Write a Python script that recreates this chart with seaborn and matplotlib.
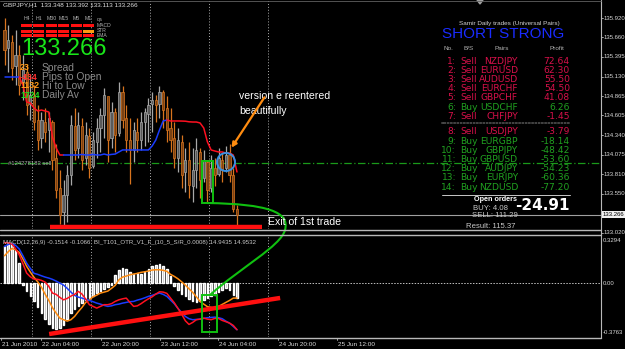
import matplotlib
matplotlib.use("Agg")
import matplotlib.pyplot as plt
import matplotlib.patches as mpatches
from matplotlib.path import Path
import numpy as np
import pandas as pd
import seaborn as sns

sns.set_style("dark")
plt.rcParams['font.family'] = ['Liberation Sans', 'DejaVu Sans']

# ---------------- data ----------------
bar_idx = list(range(64))
c_open = [135.758, 135.515, 135.596, 135.273, 135.421, 135.057, 135.192, 134.760, 134.868, 134.544,
          134.301, 134.517, 134.409, 134.517, 134.032, 133.627, 133.303, 133.532, 133.802, 134.463,
          134.167, 134.463, 134.032, 134.328, 133.924, 134.247, 134.436, 134.612, 134.868, 134.301,
          134.652, 134.369, 134.922, 134.571, 134.274, 134.140, 134.382, 134.274, 134.517, 134.625,
          134.760, 134.814, 134.760, 134.922, 134.706, 134.436, 134.301, 134.032, 134.247, 133.843,
          134.005, 133.654, 133.870, 134.113, 133.762, 133.978, 133.627, 133.897, 133.816, 134.005,
          133.897, 134.072, 133.802, 133.348]
c_high = [135.920, 135.826, 135.691, 135.758, 135.556, 135.421, 135.286, 135.151, 135.016, 134.747,
          134.652, 134.706, 134.652, 134.544, 134.220, 133.870, 133.735, 133.937, 134.612, 134.706,
          134.652, 134.571, 134.517, 134.436, 134.382, 134.571, 134.706, 134.976, 134.841, 134.787,
          134.706, 135.057, 135.003, 134.747, 134.571, 134.517, 134.571, 134.652, 134.706, 134.841,
          134.922, 134.881, 135.003, 134.949, 134.868, 134.706, 134.517, 134.436, 134.342, 134.167,
          134.247, 134.167, 134.301, 134.167, 134.140, 134.005, 134.072, 134.032, 134.167, 134.113,
          134.193, 134.220, 133.897, 133.392]
c_low = [135.286, 135.192, 135.084, 135.016, 134.881, 134.814, 134.612, 134.544, 134.409, 134.140,
         134.167, 134.247, 134.113, 133.870, 133.492, 133.141, 133.128, 133.168, 133.667, 134.005,
         134.032, 133.870, 133.937, 133.762, 133.897, 134.032, 134.113, 134.301, 133.978, 134.167,
         134.113, 134.328, 134.436, 134.113, 133.681, 133.978, 134.113, 134.140, 134.193, 134.247,
         134.382, 134.517, 134.571, 134.436, 134.247, 134.113, 133.897, 133.843, 133.627, 133.573,
         133.492, 133.438, 133.627, 133.492, 133.708, 133.438, 133.573, 133.654, 133.789, 133.708,
         133.843, 133.708, 133.303, 133.113]
c_close = [135.489, 135.623, 135.246, 135.421, 135.016, 135.219, 134.747, 134.881, 134.517, 134.274,
           134.544, 134.382, 134.571, 134.005, 133.600, 133.263, 133.532, 133.802, 134.477, 134.140,
           134.477, 134.005, 134.342, 133.897, 134.274, 134.436, 134.612, 134.881, 134.274, 134.652,
           134.342, 134.922, 134.544, 134.274, 134.140, 134.409, 134.274, 134.517, 134.652, 134.747,
           134.814, 134.747, 134.922, 134.679, 134.409, 134.274, 134.032, 134.274, 133.802, 134.005,
           133.667, 133.870, 134.140, 133.735, 134.005, 133.600, 133.897, 133.802, 134.032, 133.870,
           134.072, 133.802, 133.344, 133.266]

band_level = [135.124, 135.124, 135.124, 135.124, 135.124, 135.016, 134.787, 134.774, 134.706, 134.666,
              134.679, 134.666, 134.652, 134.315, 134.166, 134.072, 134.072, 134.072, 134.072, 134.072,
              134.072, 134.080, 134.072, 134.072, 134.080, 134.072, 134.072, 134.085, 134.072, 134.080,
              134.085, 134.113, 134.140, 134.140, 134.140, 134.140, 134.140, 134.140, 134.140, 134.140,
              134.193, 134.274, 134.409, 134.531, 134.544, 134.531, 134.531, 134.531, 134.530, 134.528,
              134.520, 134.517, 134.517, 134.504, 134.436, 134.247, 134.140, 134.126, 134.113, 134.113,
              134.099, 134.099, 134.072, 133.843]
band_trend = ['up'] * 4 + ['dn'] * 12 + ['up'] * 28 + ['dn'] * 20

macd_hist = [0.256, 0.275, 0.275, 0.233, 0.140, -0.012, -0.058, -0.093, -0.128, -0.168,
             -0.210, -0.252, -0.284, -0.315, -0.322, -0.315, -0.291, -0.252, -0.210, -0.182,
             -0.158, -0.140, -0.121, -0.105, -0.089, -0.070, -0.054, -0.042, -0.028, -0.012,
             0.058, 0.089, 0.105, 0.098, 0.075, 0.065, 0.070, 0.065, 0.075, 0.098,
             0.117, 0.128, 0.130, 0.121, 0.098, 0.047, -0.019, -0.051, -0.075, -0.093,
             -0.112, -0.126, -0.130, -0.128, -0.121, -0.105, -0.093, -0.084, -0.065, -0.047,
             -0.037, -0.051, -0.082, -0.105]
line_blue = [0.256, 0.270, 0.277, 0.263, 0.238, 0.191, 0.140, 0.103, 0.068, 0.061,
             0.051, 0.042, 0.035, 0.026, 0.014, 0.000, -0.014, -0.037, -0.063, -0.086,
             -0.098, -0.105, -0.114, -0.121, -0.130, -0.140, -0.147, -0.156, -0.163, -0.159,
             -0.151, -0.147, -0.140, -0.135, -0.130, -0.128, -0.119, -0.112, -0.103, -0.093,
             -0.086, -0.077, -0.070, -0.079, -0.093, -0.119, -0.144, -0.177, -0.205, -0.233,
             -0.249, -0.256, -0.254, -0.252, -0.247, -0.242, -0.240, -0.238, -0.242, -0.249,
             -0.266, -0.280, -0.303, -0.326]
line_red = [0.282, 0.282, 0.273, 0.240, 0.196, 0.135, 0.070, 0.044, 0.028, 0.026,
            0.019, 0.007, -0.023, -0.070, -0.079, -0.100, -0.117, -0.107, -0.091, -0.079,
            -0.058, -0.077, -0.112, -0.151, -0.163, -0.175, -0.163, -0.151, -0.151, -0.144,
            -0.128, -0.117, -0.110, -0.105, -0.135, -0.163, -0.159, -0.144, -0.126, -0.110,
            -0.096, -0.077, -0.061, -0.063, -0.072, -0.105, -0.137, -0.177, -0.217, -0.263,
            -0.289, -0.275, -0.256, -0.252, -0.245, -0.252, -0.256, -0.247, -0.247, -0.261,
            -0.270, -0.280, -0.296, -0.326]
line_orange = [0.191, 0.219, 0.242, 0.233, 0.214, 0.168, 0.117, 0.077, 0.040, 0.009,
               -0.028, -0.077, -0.121, -0.172, -0.210, -0.245, -0.256, -0.266, -0.256, -0.233,
               -0.200, -0.170, -0.135, -0.117, -0.096, -0.084, -0.070, -0.063, -0.056, -0.037,
               -0.016, 0.023, 0.042, 0.049, 0.058, 0.063, 0.068, 0.075, 0.079, 0.084,
               0.091, 0.093, 0.093, 0.089, 0.082, 0.061, 0.047, 0.030, 0.009, -0.014,
               -0.040, -0.065, -0.096, -0.128, -0.147, -0.165, -0.170, -0.175, -0.163, -0.149,
               -0.135, -0.121, -0.105, -0.105]

price_ticks = [135.920, 135.660, 135.395, 135.130, 134.865, 134.605, 134.340, 134.075, 133.810, 133.550]
price_bottom_label = 133.020
current_price = 133.266
order_price = 133.963
order_label = "#124278183 sell"
ind_ticks = [0.3294, 0.0, -0.3763]
ind_tick_labels = ["0.3294", "0.00", "-0.3763"]

grid_bars = [7.5, 23.5, 39.5, 55.5, 71.5]
date_pos = [-0.9, 10, 26.2, 42.1, 57.9, 74.1, 90.1]
date_labels = ["21 Jun 2010", "22 Jun 04:00", "22 Jun 20:00", "23 Jun 12:00",
               "24 Jun 04:00", "24 Jun 20:00", "25 Jun 12:00"]

# drawn annotations (in chart units)
support_price = 133.101
support_span = [12.2, 69.8]
trend_bars = [12.1, 74.7]
trend_vals = [-0.356, -0.104]
box_top_bars = [53.5, 56.5]
box_top_prices = [133.425, 133.991]
box_low_bars = [53.5, 57.6]
box_low_vals = [-0.342, -0.083]

# trade panel
header_title = "Samir Daily trades (Universal Pairs)"
signal = "SHORT STRONG"
trade_no = ["1:", "2:", "3:", "4:", "5:", "6:", "7:", "8:", "9:", "10:", "11:", "12:", "13:", "14:"]
trade_side = ["Sell", "Sell", "Sell", "Sell", "Sell", "Buy", "Sell", "Sell", "Buy", "Buy", "Buy", "Buy", "Buy", "Buy"]
trade_pair = ["NZDJPY", "EURUSD", "AUDUSD", "EURCHF", "GBPCHF", "USDCHF", "CHFJPY",
              "USDJPY", "EURGBP", "GBPJPY", "GBPUSD", "AUDJPY", "EURJPY", "NZDUSD"]
trade_profit = [72.64, 62.30, 55.50, 54.50, 41.08, 6.26, -1.45,
                -3.79, -18.14, -48.42, -53.60, -54.23, -60.36, -77.20]
buy_total, sell_total, result_total, open_total = 4.08, 111.29, 115.37, -24.91

info_values = ["23", "-434", "1132", "1724"]
info_labels = ["Spread", "Pips to Open", "Hi to Low", "Daily Av"]
info_colors = ["#ff9a1a", "#ff3030", "#ff9a1a", "#22dd22"]
tf_labels = ["H4", "H1", "M30", "M15", "M5", "M1"]
row_labels = ["qa", "MACD", "STR", "EMA"]

# ---------------- layout ----------------
W, H = 625, 349
BX0, BDX = 4.5, 3.69        # pixel of bar 0, pixel per bar
P0, PPX = 136.163, 0.01349  # price at top, price per pixel
fig = plt.figure(figsize=(W / 100, H / 100), dpi=100, facecolor='black')


def fpos(x0, y0, x1, y1):
    return [x0 / W, 1 - y1 / H, (x1 - x0) / W, (y1 - y0) / H]


ax = fig.add_axes(fpos(0, 0, 601, 229))
axi = fig.add_axes(fpos(0, 235, 601, 337))
for a in (ax, axi):
    a.set_facecolor('black')
    a.set_xlim((0 - BX0) / BDX, (601 - BX0) / BDX)
    a.set_xticks([]); a.set_yticks([])
    for s in a.spines.values():
        s.set_visible(False)
    a.grid(False)
ax.set_ylim(P0 - 229 * PPX, P0)
axi.set_ylim(-0.3768, 0.336)

# grid lines
for g in grid_bars:
    for a in (ax, axi):
        a.axvline(g, color='#b0b0b0', lw=0.7, ls=(0, (1, 2)), zorder=0)

# candles
df = pd.DataFrame({'i': bar_idx, 'o': c_open, 'h': c_high, 'l': c_low, 'c': c_close})
up = df['c'] >= df['o']
for msk, body, edge in ((up, '#5a5a5a', '#a8a8a8'), (~up, '#7a4214', '#d8741e')):
    d = df[msk]
    ax.vlines(d['i'], d['l'], d['h'], color=edge, lw=0.9, zorder=2)
    ax.bar(d['i'], (d['c'] - d['o']).abs(), bottom=np.minimum(d['o'], d['c']), width=0.6,
           color=body, edgecolor=edge, lw=0.5, zorder=3)

# trailing band
bdf = pd.DataFrame({'i': bar_idx, 'v': band_level, 't': band_trend})
seg_start = 0
for k in range(1, len(bdf) + 1):
    if k == len(bdf) or bdf['t'][k] != bdf['t'][seg_start]:
        seg = bdf.iloc[seg_start:min(k + 1, len(bdf))]
        col = '#1a3cff' if bdf['t'][seg_start] == 'up' else '#ff1020'
        sns.lineplot(data=seg, x='i', y='v', ax=ax, color=col, lw=1.1, zorder=4, legend=False)
        seg_start = k

# horizontal lines
ax.axhline(current_price, color='#a0a0a0', lw=0.8, zorder=1)
ax.axhline(order_price, color='#1a9a1a', lw=0.9, ls=(0, (6, 2, 1, 2)), zorder=1)
ax.text(1, order_price, order_label, color='#b0b0b0', fontsize=4.2, va='center', ha='left', zorder=5)
ax.plot(support_span, [support_price] * 2, color='#ff1010', lw=3.2, zorder=6, solid_capstyle='butt')
ax.add_patch(mpatches.Rectangle((box_top_bars[0], box_top_prices[0]), box_top_bars[1] - box_top_bars[0],
                                box_top_prices[1] - box_top_prices[0], fill=False, ec='#10c010', lw=1.4, zorder=6))

# indicator
axi.axhline(0, color='#c0c0c0', lw=0.7, ls=(0, (1.5, 1.5)), zorder=0)
axi.bar(bar_idx, macd_hist, width=0.42, color='#b4b4b4', zorder=2)
idf = pd.DataFrame({'i': bar_idx, 'b': line_blue, 'r': line_red, 'o': line_orange})
sns.lineplot(data=idf, x='i', y='o', ax=axi, color='#ff8c10', lw=1.1, zorder=3)
sns.lineplot(data=idf, x='i', y='b', ax=axi, color='#1a3cff', lw=1.1, zorder=4)
sns.lineplot(data=idf, x='i', y='r', ax=axi, color='#ff1020', lw=1.1, zorder=5)
axi.plot(trend_bars, trend_vals, color='#ff1010', lw=3.2, zorder=6, solid_capstyle='butt')
axi.add_patch(mpatches.Rectangle((box_low_bars[0], box_low_vals[0]), box_low_bars[1] - box_low_bars[0],
                                 box_low_vals[1] - box_low_vals[0], fill=False, ec='#10c010', lw=1.4, zorder=7))
for a in (ax, axi):
    a.set_xlabel(''); a.set_ylabel('')
    a.set_xlim((0 - BX0) / BDX, (601 - BX0) / BDX)

axi.text(0.005, 0.95, "MACD(12,26,9) -0.1514 -0.1066  BI_T101_OTR_V1_F_(10_5_S/R_0.0008) 14.9435 14.9532",
         transform=axi.transAxes, color='#c8c8c8', fontsize=4.4, va='top', ha='left', zorder=8)

# ---------------- overlay (frame, labels, annotations) ----------------
ov = fig.add_axes([0, 0, 1, 1], zorder=10)
ov.set_xlim(0, W); ov.set_ylim(H, 0); ov.axis('off'); ov.patch.set_alpha(0)

frame_col = '#b8b8b8'
ov.plot([601, 601], [0, 338], color=frame_col, lw=0.8)
ov.plot([0, 601], [229.5, 229.5], color=frame_col, lw=1.0)
ov.plot([0, 601], [234.5, 234.5], color=frame_col, lw=1.0)
ov.plot([0, 601], [337.5, 337.5], color=frame_col, lw=1.0)
ov.plot([0, 601], [0.5, 0.5], color='#606060', lw=0.6)
ov.add_patch(mpatches.Polygon([[477, 0], [483, 0], [480, 4]], color='#a0a0a0'))

# price scale
for p in price_ticks + [price_bottom_label]:
    yy = (P0 - p) / PPX
    ov.plot([601, 603], [yy, yy], color=frame_col, lw=0.6)
    ov.text(604, yy, f"{p:.3f}", color='#d8d8d8', fontsize=4.3, va='center', ha='left')
ycur = (P0 - current_price) / PPX
ov.text(603, ycur, f"{current_price:.3f}", color='black', fontsize=4.3, va='center', ha='left',
        bbox=dict(boxstyle='square,pad=0.15', fc='#f0f0f0', ec='none'))
for v, lab in zip(ind_ticks, ind_tick_labels):
    yy = 235 + (0.336 - v) / (0.336 + 0.3768) * 102
    yy = min(max(yy, 240), 333)
    ov.text(603, yy, lab, color='#d8d8d8', fontsize=4.3, va='center', ha='left')

# date axis
for pos, lab in zip(date_pos, date_labels):
    xx = BX0 + pos * BDX
    ov.plot([xx, xx], [338, 340], color=frame_col, lw=0.6)
    ov.text(xx + 1, 344, lab, color='#d8d8d8', fontsize=4.6, va='center', ha='left')

# top-left info
ov.text(3, 5, "GBPJPY,H1  133.348 133.392 133.113 133.266", color='#e0e0e0', fontsize=4.6, va='center', ha='left')
cell_x = [21, 33, 46, 58, 71, 83]
for k, (cx, tl) in enumerate(zip(cell_x, tf_labels)):
    ov.text(cx + 5.5, 19, tl, color='#b0b0b0', fontsize=3.8, va='center', ha='center')
    for r, ry in enumerate([24, 29.5, 34]):
        col = '#ff9a10' if (r == 1 and k == 5) else '#ff1010'
        ov.add_patch(mpatches.Rectangle((cx, ry), 11, 3.3, color=col, lw=0))
for r, (lab, ry) in enumerate(zip(row_labels, [19, 25.5, 31, 35.5])):
    ov.text(97, ry, lab, color='#b0b0b0', fontsize=3.6, va='center', ha='left')
ov.text(21, 49, f"{current_price:.3f}", color='#19e619', fontsize=17, va='center', ha='left')
for k, (v, lab, col) in enumerate(zip(info_values, info_labels, info_colors)):
    yy = 68 + 9 * k
    ov.text(20, yy, v, color=col, fontsize=6.4, va='center', ha='left', fontweight='bold')
    ov.text(42, yy, lab, color='#8a8a8a', fontsize=7.4, va='center', ha='left')

# trade panel
ov.text(509, 23, header_title, color='#d0d0d0', fontsize=4.6, va='center', ha='center')
ov.text(503, 34, signal, color='#1a2cff', fontsize=11, va='center', ha='center')
ov.text(443, 49, "No.", color='#b0b0b0', fontsize=4.6, va='center', ha='left')
ov.text(463, 49, "B/S", color='#b0b0b0', fontsize=4.6, va='center', ha='left')
ov.text(502, 49, "Pairs", color='#b0b0b0', fontsize=4.6, va='center', ha='center')
ov.text(557, 49, "Profit", color='#b0b0b0', fontsize=4.6, va='center', ha='center')
row_y = [61, 70.3, 79.5, 88.8, 98, 107.2, 116.4, 132, 141.2, 150.4, 159.6, 168.8, 178, 187.2]
for no, sd, pr, pf, yy in zip(trade_no, trade_side, trade_pair, trade_profit, row_y):
    col = '#d8104a' if sd == 'Sell' else '#20a020'
    fs = 6.6
    ov.text(456, yy, no, color=col, fontsize=fs, va='center', ha='right', family='DejaVu Sans')
    ov.text(460, yy, sd, color=col, fontsize=fs, va='center', ha='left', family='DejaVu Sans')
    ov.text(518, yy, pr, color=col, fontsize=fs, va='center', ha='right', family='DejaVu Sans')
    ov.text(570, yy, f"{pf:.2f}", color=col, fontsize=fs, va='center', ha='right', family='DejaVu Sans')
ov.text(506, 123.5, "=" * 40, color='#a0a0a0', fontsize=4, va='center', ha='center')
ov.plot([442, 570], [195, 195], color='#c8c8c8', lw=0.7)
ov.text(495, 199.5, "Open orders", color='white', fontsize=5.2, va='center', ha='center', fontweight='bold')
ov.text(508, 208, f"BUY: {buy_total:.2f}", color='#c8c8c8', fontsize=5.6, va='center', ha='right')
ov.text(518, 215.5, f"SELL: {sell_total:.2f}", color='#c8c8c8', fontsize=5.6, va='center', ha='right')
ov.text(515, 227, f"Result: {result_total:.2f}", color='#c8c8c8', fontsize=5.6, va='center', ha='right')
ov.text(570, 205, f"{open_total:.2f}", color='white', fontsize=11, va='center', ha='right',
        fontweight='bold', family=['Liberation Sans Narrow', 'DejaVu Sans'])

# annotations
ov.text(239, 96, "version e reentered", color='white', fontsize=7.6, va='center', ha='left')
ov.text(239, 111, "beautifully", color='white', fontsize=7.6, va='center', ha='left')
ov.text(268, 222, "Exit of 1st trade", color='white', fontsize=7.6, va='center', ha='left')
ov.annotate("", xy=(230, 150), xytext=(266, 95),
            arrowprops=dict(arrowstyle='-|>', color='#ff8c10', lw=1.6, mutation_scale=7))
ov.add_patch(mpatches.Circle((226, 162), 9, fill=False, ec='#3a90e0', lw=1.4))
curve_pts = [(207, 203), (268, 204), (290, 212), (285, 230), (281, 246), (240, 268), (210, 295)]
curve_codes = [Path.MOVETO] + [Path.CURVE4] * 6
ov.add_patch(mpatches.PathPatch(Path(curve_pts, curve_codes), fill=False, ec='#10c010', lw=1.5))

fig.savefig("out.png", dpi=100, facecolor='black')
